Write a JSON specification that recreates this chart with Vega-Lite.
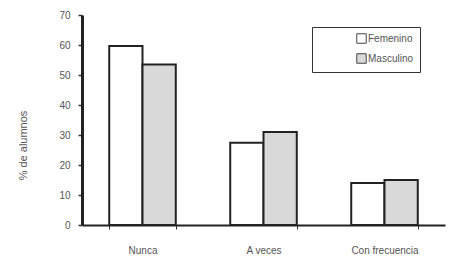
{
  "$schema": "https://vega.github.io/schema/vega-lite/v6.json",
  "autosize": "none",
  "width": 363,
  "height": 210,
  "padding": {"left": 82, "top": 15, "right": 27, "bottom": 37},
  "background": "white",
  "data": {
    "values": [
      {"frecuencia": "Nunca", "sexo": "Femenino", "pct": 59.7},
      {"frecuencia": "Nunca", "sexo": "Masculino", "pct": 53.5},
      {"frecuencia": "A veces", "sexo": "Femenino", "pct": 27.4},
      {"frecuencia": "A veces", "sexo": "Masculino", "pct": 31},
      {"frecuencia": "Con frecuencia", "sexo": "Femenino", "pct": 14},
      {"frecuencia": "Con frecuencia", "sexo": "Masculino", "pct": 15}
    ]
  },
  "config": {
    "view": {"stroke": null},
    "font": "Liberation Sans"
  },
  "mark": {"type": "bar", "stroke": "#222", "strokeWidth": 2},
  "encoding": {
    "x": {
      "field": "frecuencia",
      "type": "nominal",
      "sort": ["Nunca", "A veces", "Con frecuencia"],
      "scale": {"paddingInner": 0.45, "paddingOuter": 0.225},
      "axis": {
        "title": null,
        "labelAngle": 0,
        "labelFontSize": 10,
        "labelColor": "#555",
        "labelPadding": 16,
        "tickBand": "extent",
        "tickSize": 4,
        "tickColor": "#333",
        "domainColor": "#222",
        "domainWidth": 2
      }
    },
    "xOffset": {"field": "sexo", "type": "nominal", "sort": ["Femenino", "Masculino"]},
    "y": {
      "field": "pct",
      "type": "quantitative",
      "scale": {"domain": [0, 70]},
      "axis": {
        "title": "% de alumnos",
        "titleFontSize": 11,
        "titleFontWeight": "normal",
        "titleColor": "#555",
        "titleY": 130,
        "titlePadding": 30,
        "values": [0, 10, 20, 30, 40, 50, 60, 70],
        "labelFontSize": 10,
        "labelColor": "#555",
        "labelPadding": 8,
        "tickSize": 4,
        "tickColor": "#333",
        "tickWidth": 1.5,
        "grid": false,
        "domainColor": "#222",
        "domainWidth": 3
      }
    },
    "fill": {
      "field": "sexo",
      "type": "nominal",
      "sort": ["Femenino", "Masculino"],
      "scale": {"domain": ["Femenino", "Masculino"], "range": ["#ffffff", "#d9d9d9"]},
      "legend": {
        "title": null,
        "orient": "none",
        "legendX": 230,
        "legendY": 12,
        "direction": "vertical",
        "strokeColor": "#333",
        "fillColor": "white",
        "padding": 6,
        "symbolOffset": 38,
        "symbolType": "square",
        "symbolSize": 90,
        "symbolStrokeColor": "#444",
        "symbolStrokeWidth": 1,
        "labelFontSize": 10,
        "labelColor": "#555",
        "labelOffset": 1,
        "rowPadding": 5
      }
    }
  }
}
